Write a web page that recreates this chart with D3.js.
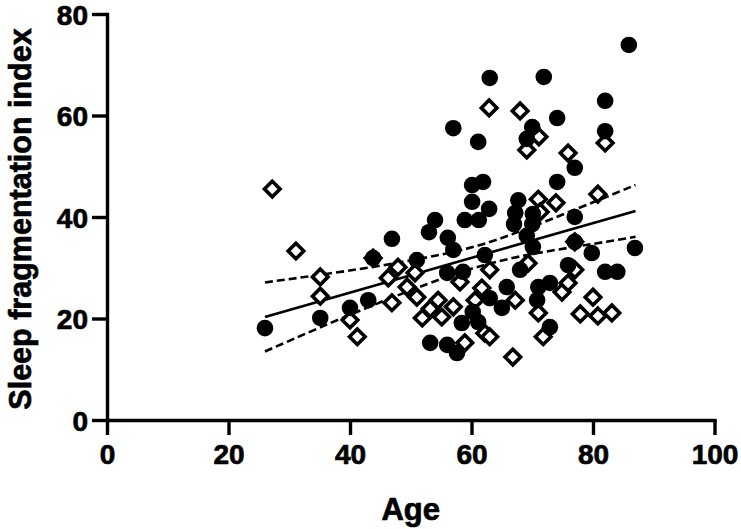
<!DOCTYPE html>
<html>
<head>
<meta charset="utf-8">
<script src="https://cdn.jsdelivr.net/npm/d3@7"></script>
<style>
  html, body { margin: 0; padding: 0; background: #fff; }
  svg { display: block; }
  text { font-family: "Liberation Sans", Arial, sans-serif; font-weight: bold; fill: #000; }
</style>
</head>
<body>
<svg id="chart" width="741" height="529"></svg>
<script>
// ---- data ----
const circleAge = [26.0, 35.1, 40.0, 43.0, 43.8, 46.9, 51.0, 53.0, 54.0, 56.1, 57.0, 56.0, 58.6, 58.9, 61.2,
  60.1, 62.9, 60.1, 61.9, 57.0, 61.1, 63.0, 71.9, 85.9, 82.0, 82.0, 74.1, 70.0, 69.1, 77.0,
  74.1, 67.7, 67.2, 67.0, 70.1, 70.0, 69.1, 70.1, 77.0, 77.0, 79.8, 86.9, 82.0, 84.0, 75.9,
  72.9, 71.0, 68.0, 65.8, 70.8, 65.0, 63.0, 62.2, 72.9, 60.2, 58.4, 53.2, 56.0, 57.6, 61.1];
const circleSFI = [18.1, 20.1, 22.1, 23.6, 31.9, 35.7, 31.5, 37.0, 39.4, 35.9, 33.5, 29.0, 29.2, 39.4, 39.4,
  43.0, 41.6, 46.3, 46.9, 57.5, 54.8, 67.4, 67.6, 73.9, 62.9, 56.9, 59.5, 57.7, 55.4, 49.7,
  46.9, 43.3, 40.8, 38.6, 40.6, 38.6, 36.3, 34.1, 40.0, 35.1, 32.9, 33.9, 29.2, 29.2, 30.5,
  27.0, 26.2, 29.6, 26.2, 23.6, 22.1, 24.0, 32.5, 18.3, 21.3, 19.1, 15.2, 14.8, 13.2, 19.3];

const diamondAge = [27.2, 31.1, 35.1, 35.1, 40.0, 41.2, 43.8, 46.3, 47.9, 46.9, 49.4, 50.7, 51.0, 51.9, 53.2,
  54.5, 55.1, 57.0, 58.1, 60.6, 58.9, 62.2, 63.0, 61.7, 63.0, 67.2, 66.8, 69.3, 71.0, 71.8,
  74.9, 75.9, 77.0, 77.0, 80.0, 77.9, 80.8, 83.1, 80.8, 71.0, 73.9, 71.3, 75.9, 69.1, 71.1,
  82.0, 68.0, 62.9];
const diamondSFI = [45.5, 33.3, 28.2, 24.4, 19.7, 16.4, 31.9, 28.0, 30.1, 23.1, 26.2, 29.0, 24.2, 20.1, 21.9,
  23.6, 20.3, 22.3, 27.2, 23.6, 15.2, 17.1, 16.4, 26.0, 29.6, 23.6, 12.4, 30.9, 21.1, 16.4,
  25.2, 27.0, 29.6, 35.1, 24.2, 20.9, 20.5, 21.1, 44.5, 43.5, 42.8, 41.0, 52.6, 53.2, 55.8,
  54.6, 60.9, 61.5];

// regression line and its 95% confidence band
const fitAge = [26, 87];
const fitSFI = [20.3, 41.2];
const ciAge   = [26, 35, 45, 55, 62, 70, 80, 87];
const ciUpper = [27.1, 28.6, 30.4, 32.6, 34.7, 38.1, 42.9, 46.3];
const ciLower = [13.5, 18.2, 23.2, 27.8, 30.5, 32.7, 34.7, 36.1];

const xTicks = [0, 20, 40, 60, 80, 100];
const yTicks = [0, 20, 40, 60, 80];
const xTitle = "Age";
const yTitle = "Sleep fragmentation index";

// ---- layout ----
const svg = d3.select("#chart");
const mLeft = 107, mRight = 714.5, mTop = 14, mBottom = 420;

const x = d3.scaleLinear().domain([0, 100]).range([mLeft, mRight]);
const y = d3.scaleLinear().domain([0, 80]).range([mBottom, mTop]);

// axes
const xAxis = d3.axisBottom(x).tickValues(xTicks).tickSize(15).tickSizeOuter(0).tickPadding(9);
const yAxis = d3.axisLeft(y).tickValues(yTicks).tickSize(15).tickSizeOuter(0).tickPadding(4);

const gx = svg.append("g").attr("transform", `translate(0,${mBottom})`).call(xAxis);
const gy = svg.append("g").attr("transform", `translate(${mLeft},0)`).call(yAxis);

[gx, gy].forEach(g => {
  g.selectAll("path.domain").attr("stroke", "#000").attr("stroke-width", 3.4).attr("stroke-linecap", "square");
  g.selectAll(".tick line").attr("stroke", "#000").attr("stroke-width", 3.4);
  g.selectAll(".tick text").style("font-size", "28px").style("font-weight", "bold")
    .style("font-family", '"Liberation Sans", Arial, sans-serif').attr("fill", "#000")
    .attr("stroke", "#000").attr("stroke-width", 0.7);
});
gx.selectAll(".tick text").attr("dy", "0.71em");
gy.selectAll(".tick text").attr("dy", "0.36em");

// axis titles
svg.append("text").attr("x", (mLeft + mRight) / 2).attr("y", 520)
  .attr("text-anchor", "middle").style("font-size", "31px")
  .attr("stroke", "#000").attr("stroke-width", 0.7).text(xTitle);
svg.append("text")
  .attr("transform", `translate(31,${(mTop + mBottom) / 2 + 2}) rotate(-90)`)
  .attr("text-anchor", "middle").style("font-size", "30.5px")
  .attr("stroke", "#000").attr("stroke-width", 0.7).text(yTitle);

// regression + CI
const lineGen = d3.line().x(d => x(d[0])).y(d => y(d[1]));
const curveGen = d3.line().x(d => x(d[0])).y(d => y(d[1])).curve(d3.curveNatural);

svg.append("path").datum(fitAge.map((a, i) => [a, fitSFI[i]]))
  .attr("d", lineGen).attr("fill", "none").attr("stroke", "#000").attr("stroke-width", 2.6);
[ciUpper, ciLower].forEach(arr => {
  svg.append("path").datum(ciAge.map((a, i) => [a, arr[i]]))
    .attr("d", curveGen).attr("fill", "none").attr("stroke", "#000")
    .attr("stroke-width", 2.6).attr("stroke-dasharray", "8,4");
});

// diamonds (open)
const dsize = 7.8;
svg.append("g").selectAll("path").data(diamondAge.map((a, i) => [a, diamondSFI[i]]))
  .join("path")
  .attr("transform", d => `translate(${x(d[0])},${y(d[1])})`)
  .attr("d", `M0,${-dsize}L${dsize},0L0,${dsize}L${-dsize},0Z`)
  .attr("fill", "#fff").attr("stroke", "#000").attr("stroke-width", 3.6).attr("stroke-linejoin", "miter");

// circles (filled)
svg.append("g").selectAll("circle").data(circleAge.map((a, i) => [a, circleSFI[i]]))
  .join("circle")
  .attr("cx", d => x(d[0])).attr("cy", d => y(d[1])).attr("r", 8.3)
  .attr("fill", "#000");
</script>
</body>
</html>
